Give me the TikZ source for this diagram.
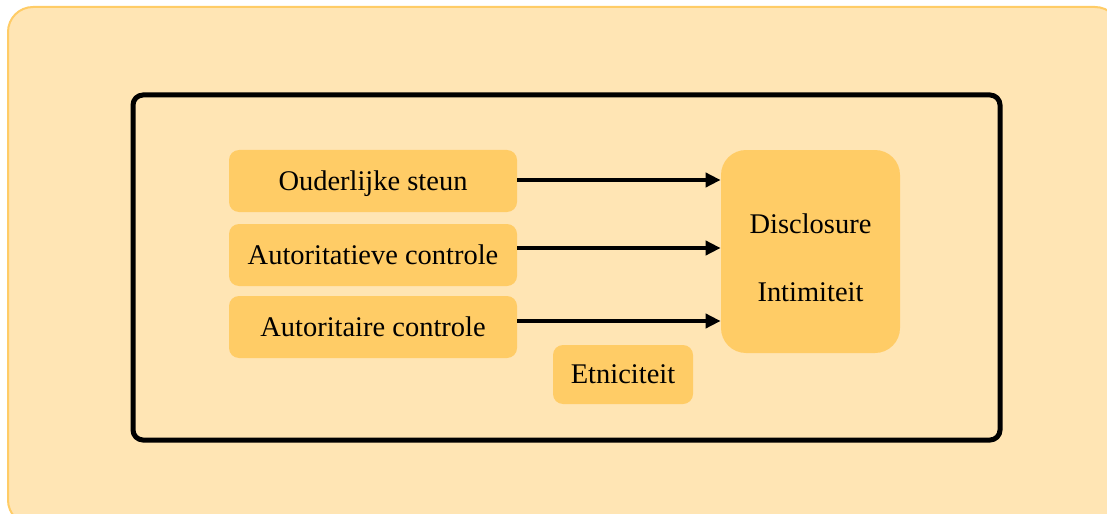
\documentclass[tikz,border=0pt]{standalone}
\usepackage{fontspec}
\setmainfont{Liberation Serif}
\usepackage{tikz}
\usetikzlibrary{arrows.meta}
\tikzset{->/.style = {-{Triangle[length = 0.3cm, width = 0.28cm]}, line width = 0.08cm}}
\tikzset{factor/.style = {fill = mbox, rounded corners = 0.2cm, inner sep = 0,
                          minimum width = 5.76cm, minimum height = 1.24cm, text depth = 0,
                          font = \fontsize{16.2}{19}\selectfont}}
\definecolor{mpeach}{rgb}{1, 0.898, 0.706}
\definecolor{mborder}{rgb}{1, 0.8, 0.4}
\definecolor{mbox}{rgb}{1, 0.8, 0.4}

\begin{document}
\begin{tikzpicture}
    \useasboundingbox (0, 0) rectangle (22.14, -10.28);

    \draw [fill = mpeach, draw = mborder, line width = 0.04cm, rounded corners = 0.5cm]
      (0.16, -0.14) rectangle (22.4, -10.5);

    \draw [line width = 0.1cm, rounded corners = 0.2cm] (2.66, -1.9) rectangle (20, -8.8);

    \node [factor] (steun) at (7.46, -3.62) {Ouderlijke steun};
    \node [factor] (tieve) at (7.46, -5.1) {Autoritatieve controle};
    \node [factor] (taire) at (7.46, -6.54) {Autoritaire controle};

    \node [factor, minimum width = 2.8cm, minimum height = 1.18cm] (etni) at (12.46, -7.49) {Etniciteit};

    \node [factor, minimum width = 3.58cm, minimum height = 4.06cm, rounded corners = 0.5cm,
           align = center, text height = 2cm] (uit) at (16.21, -5.03) {Disclosure\\[0.7cm]Intimiteit};

    \draw [->] ([yshift = 0.02cm] steun.east) -- ([yshift = 0.02cm] steun.east -| uit.west);
    \draw [->] ([yshift = 0.14cm] tieve.east) -- ([yshift = 0.14cm] tieve.east -| uit.west);
    \draw [->] ([yshift = 0.12cm] taire.east) -- ([yshift = 0.12cm] taire.east -| uit.west);
  \end{tikzpicture}
\end{document}
